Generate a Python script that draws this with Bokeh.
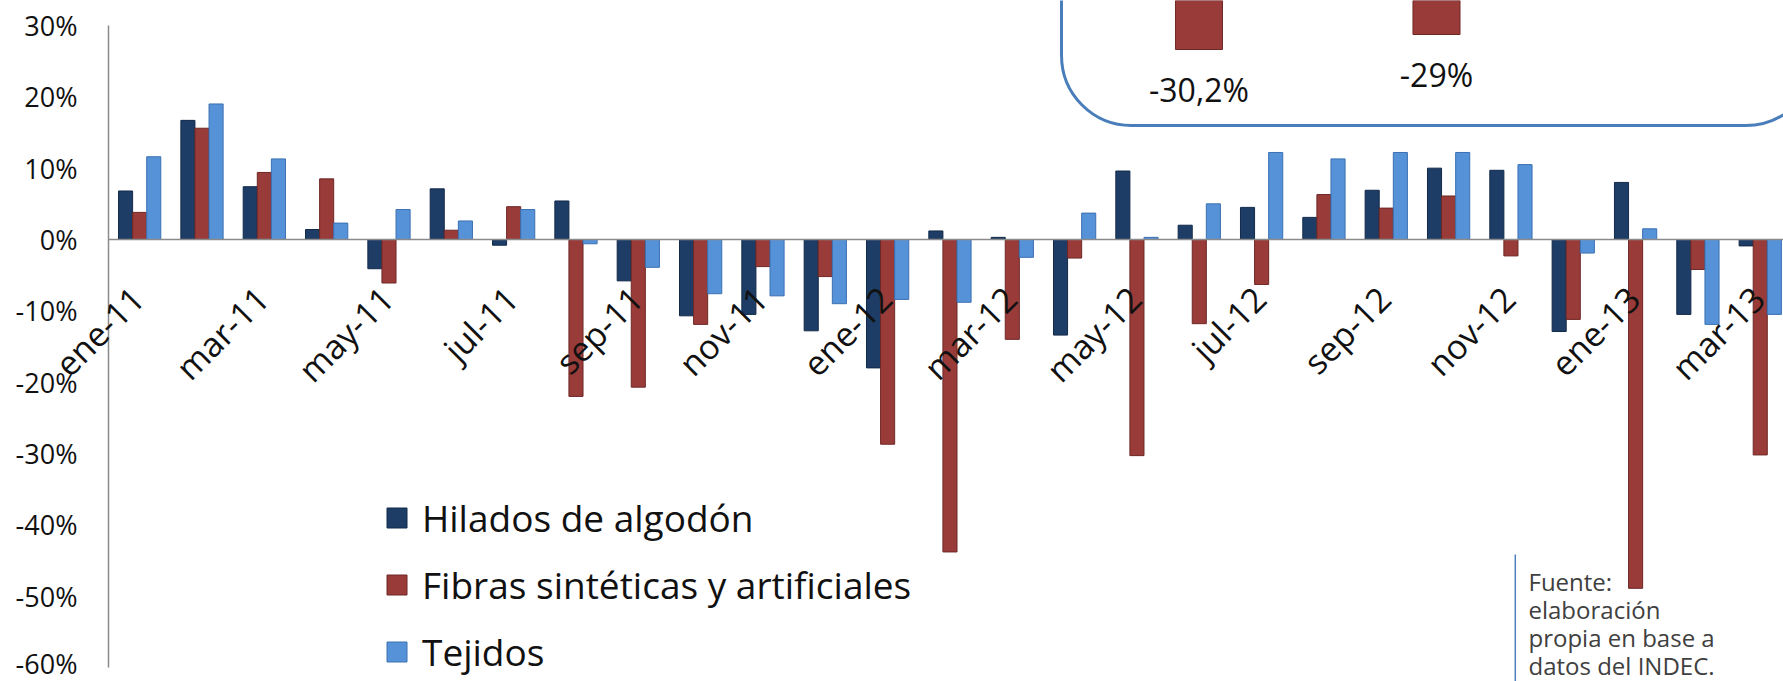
import math
from bokeh.plotting import figure
from bokeh.models import (Range1d, FixedTicker, PrintfTickFormatter, BoxAnnotation,
                          Legend, LegendItem, ColumnDataSource, Label, LabelSet)
from bokeh.transform import dodge
from bokeh.core.properties import value
from bokeh.embed import file_html
from bokeh.resources import INLINE

# ---------------- data ----------------
months = ["ene-11", "feb-11", "mar-11", "abr-11", "may-11", "jun-11", "jul-11", "ago-11",
          "sep-11", "oct-11", "nov-11", "dic-11", "ene-12", "feb-12", "mar-12", "abr-12",
          "may-12", "jun-12", "jul-12", "ago-12", "sep-12", "oct-12", "nov-12", "dic-12",
          "ene-13", "feb-13", "mar-13"]
hilados = [6.8, 16.7, 7.4, 1.4, -4.1, 7.1, -0.8, 5.4, -5.8, -10.7, -10.5, -12.8, -18.0, 1.2,
           0.3, -13.4, 9.6, 2.0, 4.5, 3.1, 6.9, 10.0, 9.7, -12.9, 8.0, -10.5, -0.9]
fibras = [3.8, 15.6, 9.4, 8.5, -6.1, 1.3, 4.6, -22.0, -20.7, -11.9, -3.8, -5.2, -28.7, -43.8,
          -14.0, -2.6, -30.3, -11.8, -6.3, 6.3, 4.4, 6.1, -2.3, -11.2, -48.9, -4.2, -30.2]
tejidos = [11.6, 19.0, 11.3, 2.3, 4.2, 2.6, 4.2, -0.6, -3.9, -7.6, -7.9, -9.0, -8.4, -8.8,
           -2.5, 3.7, 0.3, 5.0, 12.2, 11.3, 12.2, 12.2, 10.5, -1.9, 1.5, -11.9, -10.5]
series_names = ["Hilados de algodón", "Fibras sintéticas y artificiales", "Tejidos"]
y_ticks = [-60, -50, -40, -30, -20, -10, 0, 10, 20, 30]

inset_vals = [-30.2, -29.0]
inset_pos = [1, 2]

footnote = ["Fuente:", "elaboración", "propia en base a", "datos del INDEC."]

# ---------------- style ----------------
C_H, C_H_L = "#1d3c66", "#132a4a"
C_F, C_F_L = "#993b39", "#6e2826"
C_T, C_T_L = "#5692d8", "#3c70b2"
FONT = "Open Sans"

W, H = 1783, 681
p = figure(width=W, height=H, output_backend="svg", toolbar_location=None, title=None,
           x_range=Range1d(-1.7327, 26.873), y_range=Range1d(-61.963, 33.505),
           x_axis_location=None, min_border=0, min_border_left=0, min_border_right=0,
           min_border_top=0, min_border_bottom=0)
p.outline_line_color = None
p.grid.visible = False
p.background_fill_color = "white"
p.border_fill_color = "white"

# inset box (drawn under the glyphs)
inset_box = BoxAnnotation(left=15.29, right=27.39, bottom=15.98, top=60,
                          fill_color="white", fill_alpha=1.0,
                          line_color="#4a7ebb", line_alpha=1.0, line_width=3,
                          border_radius=70, level="underlay")
p.add_layout(inset_box)

src = ColumnDataSource(dict(x=[i + 0.5 for i in range(len(months))],
                            h=hilados, f=fibras, t=tejidos))
bw = 0.226
r_h = p.vbar(x=dodge("x", -bw), top="h", bottom=0, width=bw, source=src,
             fill_color=C_H, line_color=C_H_L, line_width=1)
r_f = p.vbar(x=dodge("x", 0), top="f", bottom=0, width=bw, source=src,
             fill_color=C_F, line_color=C_F_L, line_width=1)
r_t = p.vbar(x=dodge("x", bw), top="t", bottom=0, width=bw, source=src,
             fill_color=C_T, line_color=C_T_L, line_width=1)

# zero line, starting at the value axis
p.add_layout(BoxAnnotation(bottom=0, top=0, left=0, fill_alpha=0,
                           line_color="#8a8a8a", line_alpha=1.0, line_width=1.5))

# month labels (every other month)
lab_src = ColumnDataSource(dict(x=[i + 0.5 for i in range(0, len(months), 2)],
                                y=[0] * len(months[::2]), text=months[::2]))
p.add_layout(LabelSet(x="x", y="y", text="text", source=lab_src, angle=math.pi / 4,
                      text_align="right", text_baseline="middle", x_offset=-2, y_offset=-53,
                      text_font=value(FONT), text_font_size="34px", text_color="#111111"))

# y axis, fixed at x = 0
ax = p.yaxis[0]
ax.fixed_location = 0
ax.ticker = FixedTicker(ticks=y_ticks)
ax.formatter = PrintfTickFormatter(format="%d%%")
ax.bounds = (-60, 30)
ax.axis_line_color = "#8a8a8a"
ax.axis_line_width = 1.5
ax.major_tick_line_color = None
ax.minor_tick_line_color = None
ax.major_tick_out = 0
ax.major_tick_in = 0
ax.major_label_standoff = 31
ax.major_label_text_font = FONT
ax.major_label_text_font_size = "27px"
ax.major_label_text_color = "#111111"

# inset chart
p.extra_x_ranges = {"ix": Range1d(-4.046, 3.461)}
p.extra_y_ranges = {"iy": Range1d(-80.76, -26.28)}
isrc = ColumnDataSource(dict(x=inset_pos, v=inset_vals,
                             lab=[f"{v:g}".replace(".", ",") + "%" for v in inset_vals]))
p.vbar(x="x", top=0, bottom="v", width=0.198, source=isrc, x_range_name="ix",
       y_range_name="iy", fill_color=C_F, line_color=C_F_L, line_width=1)
p.text(x="x", y="v", text="lab", source=isrc, x_range_name="ix", y_range_name="iy",
       text_align="center", text_baseline="middle", y_offset=40,
       text_font=value(FONT), text_font_size="32px", text_color="#111111")

# legend
legend = Legend(items=[LegendItem(label=series_names[0], renderers=[r_h]),
                       LegendItem(label=series_names[1], renderers=[r_f]),
                       LegendItem(label=series_names[2], renderers=[r_t])],
                location=(384, 4), orientation="vertical",
                glyph_width=25, glyph_height=25, label_standoff=13,
                label_text_font=FONT, label_text_font_size="37px",
                label_text_color="#111111", spacing=16, label_height=50,
                padding=0, margin=0, border_line_color=None, background_fill_alpha=0)
p.add_layout(legend, "center")

# footnote
p.add_layout(BoxAnnotation(left=22.57, right=22.57, top=-44.16, bottom=-70,
                           fill_alpha=0, line_color="#4f81bd", line_alpha=1.0,
                           line_width=1.5))
for k, line in enumerate(footnote):
    p.add_layout(Label(x=1528, y=100 - 28 * k, x_units="screen", y_units="screen",
                       text=line, text_font=FONT, text_font_size="24px",
                       text_color="#404040", text_baseline="alphabetic"))

open("out.html", "w").write(file_html(p, INLINE, "chart"))
